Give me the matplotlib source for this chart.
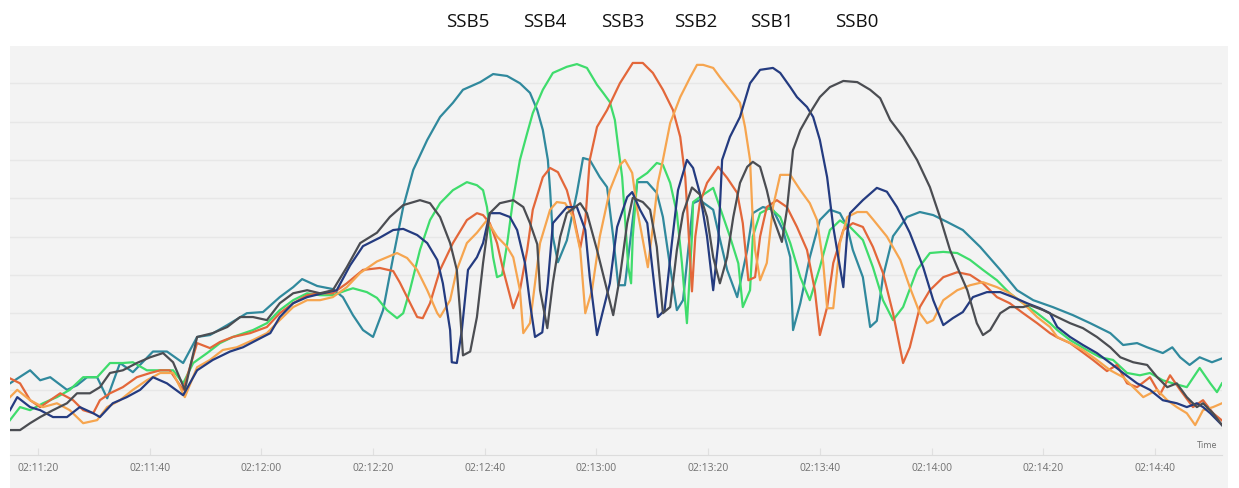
import matplotlib
matplotlib.use("Agg")
import matplotlib.pyplot as plt
from matplotlib.patches import Rectangle
from matplotlib.ticker import FuncFormatter, MultipleLocator

# time axis: seconds after 02:11:00, values in dBm
ssb5_t = [15, 18.6, 20.4, 22.2, 25.2, 27.0, 28.8, 30.6, 32.4, 34.7, 37.0, 40.6, 43.1, 46.0, 48.5, 50.8,
          53.9, 57.4, 60.3, 63.3, 65.7, 67.3, 70.0, 72.8, 74.6, 76.4, 78.2, 80.0, 81.8, 83.6, 85.4, 87.2,
          89.7, 92.0, 94.3, 96.1, 99.2, 101.5, 104.0, 106.3, 108.1, 109.4, 110.4, 111.3, 111.7, 112.2,
          113.1, 114.7, 116.5, 117.6, 118.8, 120.6, 121.9, 123.0, 123.9, 125.1, 127.3, 129.1, 130.8,
          131.9, 133.2, 134.4, 135.5, 137.3, 138.5, 140.9, 141.6, 143.4, 145.2, 147.0, 148.0, 149.8,
          151.6, 153.4, 154.7, 155.2, 156.5, 158.2, 160.0, 161.8, 163.6, 164.9, 165.9, 167.7, 169.0,
          170.2, 171.3, 173.1, 175.6, 177.9, 180.3, 182.8, 185.6, 188.7, 192.3, 195.3, 198.2, 201.7,
          205.3, 208.4, 212.0, 214.3, 216.8, 218.6, 221.4, 223.1, 224.5, 226.2, 228.0, 230.2, 232.0]
ssb5_v = [-108.3, -104.9, -107.5, -106.7, -110, -108.8, -106.7, -106.7, -112.2, -103, -105.4, -100, -100,
          -103, -96.2, -95.7, -93.1, -90, -89.7, -85.8, -83.2, -81.1, -82.9, -83.7, -85.8, -90.5, -94.4,
          -96.2, -89.2, -75.4, -62.3, -52.6, -44.8, -38.8, -35.1, -31.7, -29.7, -27.6, -28.1, -30, -32.5,
          -37, -42.2, -50, -57.9, -70.1, -76.7, -71, -58.6, -49.5, -50, -54.5, -57.1, -70.1, -82.7, -82.7,
          -55.8, -55.8, -58.6, -64.9, -78, -89.2, -86.6, -61.3, -60.5, -63, -67.5, -78.7, -85.8, -73.5,
          -63.9, -62.3, -63, -68.3, -75.4, -94.4, -87.4, -75.4, -65.7, -63, -63.9, -67.5, -73.5, -80.6,
          -93.6, -92, -80.5, -69.9, -64.9, -63.6, -64.4, -66.2, -68.3, -72.7, -78.7, -84, -86.6, -88.4,
          -90.5, -92.6, -95.2, -98.3, -97.8, -98.9, -100.4, -98.9, -101.5, -103.5, -101.5, -102.8, -101.8]

ssb4_t = [15, 16.8, 18.6, 20.9, 23.4, 25.7, 28.1, 30.6, 32.9, 35.2, 37.0, 39.5, 41.9, 44.2, 46.0, 47.8,
          50.3, 52.6, 54.9, 58.5, 61.0, 63.3, 65.7, 68.2, 70.5, 72.8, 75.3, 76.4, 78.9, 80.7, 82.5, 84.3,
          85.4, 86.6, 88.4, 90.2, 92.0, 94.3, 96.8, 98.6, 99.7, 100.4, 100.9, 101.5, 102.2, 103.1, 104.0,
          105.1, 106.3, 107.6, 108.6, 110.4, 112.2, 114.7, 116.5, 118.3, 120.1, 121.2, 122.4, 123.3,
          123.9, 124.6, 125.1, 125.7, 126.2, 126.5, 127.3, 129.1, 130.8, 131.9, 133.2, 134.4, 135.3,
          136.2, 137.1, 137.3, 138.5, 140.9, 142.7, 143.9, 145.4, 146.2, 147.5, 148.0, 149.3, 151.1,
          152.9, 154.7, 156.5, 158.2, 160.0, 161.8, 163.6, 165.4, 167.7, 169.5, 171.3, 173.1, 174.9,
          177.4, 179.7, 182.1, 184.6, 186.9, 189.2, 191.7, 194.0, 196.4, 198.9, 201.2, 202.5, 204.8,
          207.8, 210.2, 212.5, 215.0, 217.3, 219.1, 221.4, 223.2, 225.7, 228.0, 229.9, 231.1, 232.0]
ssb4_v = [-117.9, -114.5, -115.3, -113.5, -111.9, -110, -106.7, -106.7, -103, -103, -102.8, -104.9,
          -104.9, -104.9, -108.3, -103, -100.4, -97.8, -96.2, -94.4, -92.6, -89.2, -86.6, -84.8, -85.3,
          -85.3, -84, -83.5, -84.5, -86, -89.2, -91.3, -90, -84, -73.5, -65.7, -61.3, -57.9, -55.8, -56.6,
          -57.9, -62.3, -68.3, -75.4, -80.6, -80, -72, -60, -50, -43, -37.8, -31.7, -27.3, -25.7, -25, -26,
          -30.4, -32.5, -34.9, -39.6, -46.6, -54.5, -64.9, -78, -82.2, -70.1, -55.2, -53.4, -50.8, -51.3,
          -56, -63.9, -76.9, -92.6, -70, -61, -59.7, -57.3, -64.9, -70, -77, -88.4, -84, -70, -63.9,
          -62.5, -64.9, -71.7, -80.6, -86.6, -78, -68.3, -65.8, -67.5, -70.9, -78, -86.6, -91.8, -88.4,
          -78.7, -74.3, -74, -74.3, -76.1, -78.7, -81.4, -84.8, -87.4, -90, -92.6, -94.4, -97, -99.6,
          -101.5, -102.2, -105.6, -106.2, -105.6, -107.5, -108.3, -109.3, -104.3, -108.3, -110.6, -108.3]

ssb3_t = [15, 16.8, 18.6, 20.4, 22.2, 24.0, 26.3, 28.1, 29.9, 31.1, 32.9, 35.2, 37.7, 40.1, 41.9, 43.6,
          46.0, 48.5, 50.8, 52.6, 54.9, 58.0, 61.0, 63.3, 65.7, 68.2, 70.5, 72.8, 75.3, 78.2, 81.2, 83.6,
          84.8, 86.1, 87.9, 88.9, 90.2, 92.0, 94.3, 96.8, 98.6, 99.7, 100.9, 102.2, 103.3, 105.1, 106.3,
          107.6, 108.6, 110.4, 111.7, 113.1, 114.7, 115.8, 117.1, 118.0, 118.8, 120.1, 121.9, 124.2,
          126.5, 128.3, 130.1, 131.9, 133.7, 135.0, 135.9, 136.4, 137.1, 137.7, 138.5, 139.8, 141.8,
          143.4, 145.2, 146.2, 147.2, 148.4, 149.3, 150.5, 152.3, 154.1, 155.9, 157.7, 159.1, 160.0,
          161.3, 162.4, 164.2, 165.9, 167.7, 169.5, 171.3, 173.1, 174.9, 176.1, 177.9, 179.7, 182.1,
          184.6, 186.9, 189.2, 191.7, 194.0, 196.4, 198.9, 201.2, 202.5, 204.8, 206.5, 208.9, 211.4,
          213.2, 215.0, 216.8, 219.1, 220.9, 222.7, 224.5, 226.8, 228.6, 230.4, 232.0]
ssb3_v = [-107, -108.3, -112.7, -114.5, -112.7, -110.9, -112.7, -115.3, -116.1, -112.7, -110.9, -109.3,
          -106.7, -105.6, -104.9, -104.9, -110, -97.8, -99.1, -97.5, -96.2, -95.2, -93.6, -90, -87.4,
          -85.3, -84.8, -84.8, -82.2, -78.7, -78.2, -79, -82, -85.8, -91, -91.3, -87.4, -78.7, -71.7,
          -65.7, -63.9, -64.4, -66.5, -71.7, -78.7, -88.7, -84, -73.5, -63, -54.5, -52.1, -53.2, -57.9,
          -63.9, -73, -66, -50, -41.4, -37, -30, -24.7, -24.7, -27.3, -31.7, -37, -44, -54.5, -66.5, -84.3,
          -70, -61.3, -56, -51.8, -54.7, -58.6, -66.5, -81.4, -80.6, -70, -62.3, -60.5, -62.3, -67.5,
          -73.5, -84, -95.7, -88.4, -76.9, -68.3, -66.5, -67.5, -72.7, -79.5, -90, -103, -98.9, -88.4,
          -84, -80.6, -79.3, -80, -82.2, -85.8, -87.4, -90, -92.6, -95.2, -96.3, -97.8, -99.6, -102.2,
          -105.1, -103.5, -108.3, -109.3, -106.7, -111.2, -106.2, -110, -114.5, -112.7, -116.1, -118]

ssb2_t = [15, 16.3, 18.6, 20.9, 23.4, 25.7, 28.1, 30.6, 32.4, 34.7, 37.0, 39.5, 41.9, 44.2, 46.3, 48.5,
          50.8, 53.1, 55.6, 58.5, 61.0, 63.3, 65.7, 68.2, 70.5, 72.8, 75.3, 77.7, 80.7, 84.3, 86.1, 87.9,
          89.7, 91.5, 92.0, 93.8, 95.0, 96.8, 98.6, 100.4, 102.2, 104.0, 105.1, 106.3, 106.9, 108.1,
          109.9, 111.7, 112.9, 114.4, 115.8, 117.1, 118.0, 119.2, 120.6, 122.4, 124.2, 125.1, 126.4,
          127.3, 128.3, 129.2, 130.1, 131.0, 131.9, 133.2, 135.0, 136.8, 138.0, 139.1, 140.9, 142.1,
          143.9, 145.7, 146.6, 147.5, 147.9, 148.4, 149.3, 150.5, 151.6, 152.9, 154.7, 156.5, 158.2,
          159.5, 160.6, 161.3, 162.4, 163.6, 164.9, 166.7, 168.4, 169.5, 172.0, 174.4, 176.1, 177.9,
          179.2, 180.3, 182.1, 184.6, 186.9, 189.2, 191.7, 194.0, 196.4, 198.9, 201.2, 202.5, 204.8,
          207.1, 209.6, 212.0, 214.3, 216.1, 217.9, 220.4, 222.2, 223.9, 225.7, 227.2, 228.6, 230.4, 232.0]
ssb2_v = [-111.9, -110, -112.7, -114.5, -113.5, -115.3, -118.7, -117.9, -114.5, -112.7, -110, -107.5,
          -105.6, -105.6, -111.9, -104.1, -102.2, -99.6, -98.9, -97, -95.2, -91.8, -88.4, -86.6, -86.6,
          -85.8, -83.2, -79.5, -76.5, -74.3, -75.6, -78.7, -84, -90, -91, -86.6, -78.7, -71.7, -69,
          -65.7, -70, -72.7, -75.4, -84, -95.2, -92.6, -71.7, -63, -61, -61.3, -64.9, -73.5, -90, -84,
          -70, -57.9, -51.3, -50, -53.4, -63, -70.9, -78, -67.5, -56, -50, -40.4, -33.6, -28.4, -25.2,
          -25.2, -26, -28.4, -31.7, -35.1, -41.4, -50, -63, -73.5, -81.4, -76.9, -62.3, -53.9, -53.9,
          -57.9, -61.3, -65.7, -76.9, -88.7, -88.7, -71.7, -64.9, -63.6, -63.6, -65.5, -70, -76.1,
          -83.2, -90, -92.6, -91.8, -86.6, -84, -82.7, -81.9, -83.2, -84.8, -87.4, -91, -93.6, -96.2,
          -97.8, -99.6, -102.2, -104.9, -106.7, -109.3, -111.9, -110, -112.7, -114.5, -116.1, -119.2,
          -115.3, -114.5, -113.5]

ssb1_t = [15, 16.3, 18.6, 20.4, 22.7, 25.2, 27.5, 29.9, 31.1, 33.4, 35.9, 38.3, 40.6, 43.1, 46.0, 48.5,
          51.3, 54.4, 56.7, 59.2, 61.6, 63.3, 65.7, 68.2, 71.0, 73.5, 75.9, 78.2, 81.2, 83.6, 85.4, 87.9,
          89.7, 91.5, 92.5, 93.8, 94.1, 95.0, 95.9, 97.0, 98.6, 99.7, 100.9, 102.7, 104.5, 105.8, 107.2,
          108.1, 109.0, 110.3, 111.3, 112.2, 114.7, 116.5, 118.0, 118.8, 120.1, 121.2, 122.4, 123.7,
          125.5, 126.4, 127.8, 129.1, 129.9, 131.0, 132.2, 133.5, 134.6, 136.2, 137.3, 138.5, 139.8,
          140.9, 141.8, 142.5, 143.9, 145.7, 147.5, 149.3, 151.6, 152.9, 154.7, 155.9, 157.7, 158.8,
          160.0, 161.3, 162.4, 163.3, 164.2, 164.9, 165.4, 167.7, 170.2, 172.0, 173.8, 176.1, 178.5,
          180.3, 182.1, 183.8, 185.6, 187.4, 189.9, 192.3, 194.6, 197.1, 199.4, 201.2, 202.5, 204.8,
          207.1, 209.6, 212.0, 214.3, 216.8, 219.1, 221.4, 223.9, 225.7, 227.5, 228.6, 229.9, 232.0]
ssb1_v = [-115.3, -111.9, -114.5, -115.3, -117.1, -117.1, -114.5, -116.1, -117.1, -113.5, -111.9, -110,
          -106.7, -108.3, -111.4, -104.9, -102.2, -100, -98.9, -97, -95.2, -91, -87.4, -85.8, -84.8, -84,
          -77.5, -72.5, -70.3, -68.3, -68, -69.6, -71.7, -76.1, -82.2, -94.4, -102.8, -103, -94.4, -78.7,
          -75.4, -71.7, -63.9, -63.9, -64.9, -68.3, -76.9, -87.4, -96.2, -95, -82.2, -66.5, -62.3, -62.3,
          -68.3, -80.6, -95.7, -89.2, -82.2, -67.5, -59.7, -58.4, -63, -66.5, -76.9, -91, -89.2, -71.7,
          -57.9, -50, -52.1, -58.6, -70, -84, -71.7, -50, -44, -38.8, -30, -26.5, -26, -27.3, -31, -33.6,
          -36.2, -38.8, -44.8, -54.5, -67.5, -75.4, -83.2, -69, -63.9, -60.5, -57.3, -58.3, -62.3, -69,
          -78, -86.6, -93.1, -91.3, -89.7, -85.8, -84.5, -84.5, -85.8, -87.4, -88.7, -90, -93.6, -96.2,
          -98.3, -100.4, -103, -105.6, -108.3, -110, -112.7, -113.5, -114.5, -113.5, -114.5, -116.1, -119.2]

ssb0_t = [15, 16.8, 18.6, 20.4, 22.7, 25.2, 27.0, 29.3, 31.1, 32.9, 35.2, 37.7, 40.1, 42.4, 44.2, 46.3,
          48.5, 51.3, 53.9, 56.2, 58.5, 61.0, 63.3, 65.7, 68.2, 70.5, 72.8, 75.3, 77.7, 80.7, 83.0, 85.4,
          88.4, 90.2, 92.0, 93.8, 95.0, 95.6, 96.1, 97.4, 98.6, 99.7, 100.9, 102.7, 105.1, 106.9, 108.1,
          109.4, 109.9, 111.2, 112.2, 113.5, 114.7, 117.1, 118.3, 120.1, 121.9, 123.0, 124.2, 125.5,
          126.5, 128.3, 129.6, 130.8, 131.9, 133.2, 134.4, 135.5, 137.1, 138.5, 139.8, 140.9, 142.1,
          143.4, 144.5, 145.7, 147.0, 148.0, 149.3, 150.5, 151.6, 153.2, 154.1, 155.2, 156.5, 158.2,
          160.0, 161.8, 164.2, 166.7, 169.0, 170.8, 172.6, 174.9, 177.4, 179.7, 181.5, 183.3, 184.6,
          186.4, 188.1, 189.2, 190.5, 192.3, 194.0, 196.4, 197.6, 200.0, 202.5, 204.8, 207.1, 209.6,
          212.0, 213.8, 216.1, 218.6, 220.4, 222.2, 223.9, 225.7, 227.5, 228.6, 230.4, 232.0]
ssb0_v = [-120.5, -120.5, -118.7, -117.1, -115.3, -113.5, -110.9, -110.9, -109.3, -105.6, -104.9, -103,
          -101.5, -100.4, -102.8, -110, -96.2, -95.2, -93.6, -91, -91, -91.8, -87.4, -84.8, -84, -84.8,
          -84, -78, -71.7, -69, -64.9, -61.8, -60.5, -61.3, -64.9, -71.7, -78.7, -90, -101, -100, -91,
          -76.9, -63.9, -61.3, -60.5, -62.3, -66.5, -72, -84, -93.9, -82, -70.1, -63.9, -61.3, -63.9,
          -73.5, -84, -90.5, -80.6, -66.5, -59.9, -61, -63, -72.7, -90, -88.4, -73.5, -63.9, -57.2, -59,
          -64.9, -75.4, -82.2, -75.4, -64.9, -56, -51.8, -50.5, -51.8, -57.9, -64.9, -71.4, -63, -47.4,
          -42.2, -37.8, -33.6, -31, -29.4, -29.7, -31.7, -33.9, -39.6, -44, -50, -57.1, -64.9, -73.5, -78,
          -84, -92.6, -95.7, -94.4, -90, -88.4, -88.4, -87.9, -89.2, -91, -92.6, -93.9, -96.2, -98.9,
          -101.5, -102.8, -103.5, -106.7, -109.3, -108.3, -111.9, -114.5, -113.5, -116.1, -119.2]

series = [
    (ssb5_t, ssb5_v, "#30899d"),
    (ssb4_t, ssb4_v, "#3fdc6c"),
    (ssb3_t, ssb3_v, "#e3673a"),
    (ssb2_t, ssb2_v, "#f6a54f"),
    (ssb1_t, ssb1_v, "#243b80"),
    (ssb0_t, ssb0_v, "#4b4d52"),
]
beam_labels = ["SSB5", "SSB4", "SSB3", "SSB2", "SSB1", "SSB0"]
label_px = [468, 545, 623, 696, 772, 857]

W, H = 1239, 488
fig = plt.figure(figsize=(W / 100, H / 100), dpi=100)
fig.patch.set_facecolor("white")

# grey panel behind the chart
fig.patches.append(Rectangle((10 / W, 0), (1228 - 10) / W, (H - 46) / H,
                             transform=fig.transFigure, facecolor="#f3f3f3",
                             edgecolor="none", zorder=-5))

ax = fig.add_axes([10 / W, (H - 455) / H, (1222 - 10) / W, (455 - 48) / H])
ax.set_facecolor("none")
ax.set_zorder(2)

for t, v, c in series:
    ax.plot(t, v, color=c, lw=1.6, solid_joinstyle="round")

ax.set_xlim(15, 232)
ax.set_ylim(-127, -20.8)

ax.yaxis.set_major_locator(MultipleLocator(10))
ax.set_yticklabels([])
ax.tick_params(axis="y", length=0)
ax.grid(axis="y", color="#e7e7e7", lw=1)
ax.set_axisbelow(True)

ax.xaxis.set_major_locator(MultipleLocator(20))


def fmt_time(s, pos):
    total = 2 * 3600 + 11 * 60 + int(round(s))
    return "%02d:%02d:%02d" % (total // 3600, (total // 60) % 60, total % 60)


ax.xaxis.set_major_formatter(FuncFormatter(fmt_time))
ax.tick_params(axis="x", direction="in", length=5, color="#e0e0e0", labelsize=7.5,
               labelcolor="#707070", pad=6)
for lab in ax.get_xticklabels():
    lab.set_family("Open Sans")

for side in ["top", "right", "left"]:
    ax.spines[side].set_visible(False)
ax.spines["bottom"].set_color("#dcdcdc")

fig.text(1207 / W, (H - 446) / H, "Time", fontsize=6.5, color="#707070",
         ha="center", va="center", family="Open Sans")

for lab, px in zip(beam_labels, label_px):
    fig.text(px / W, (H - 22) / H, lab, fontsize=13.5, ha="center", va="center",
             family="Open Sans", color="#111111")

fig.savefig("out.png", dpi=100)
